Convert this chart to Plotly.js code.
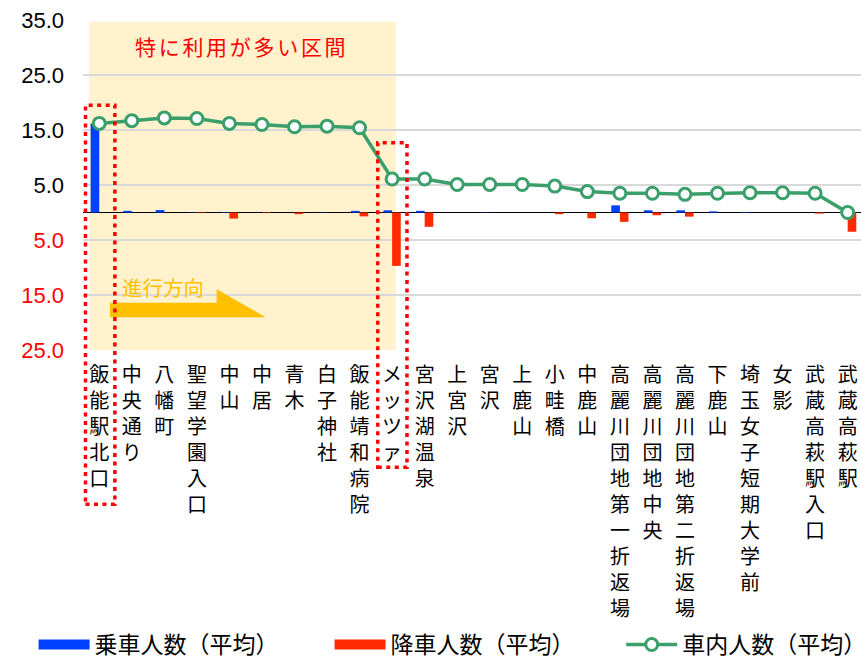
<!DOCTYPE html>
<html>
<head>
<meta charset="utf-8">
<script src="https://cdn.plot.ly/plotly-3.0.1.min.js"></script>
<style>html,body{margin:0;padding:0;background:#fff;}</style>
</head>
<body>
<div id="chart" style="width:861px;height:657px;"></div>
<script>
// ---- data ----
const stations = ["飯能駅北口","中央通り","八幡町","聖望学園入口","中山","中居","青木","白子神社","飯能靖和病院","メッツァ","宮沢湖温泉","上宮沢","宮沢","上鹿山","小畦橋","中鹿山","高麗川団地第一折返場","高麗川団地中央","高麗川団地第二折返場","下鹿山","埼玉女子短期大学前","女影","武蔵高萩駅入口","武蔵高萩駅"];
const boarding  = [16.2,0.3,0.45,0.05,0.1,0,0,0.05,0.3,0.4,0.3,0,0.05,0,0,0,1.3,0.4,0.4,0.2,0.1,0,0,0];
const alighting = [0,0,0,0.1,1.1,0.1,0.3,0,0.7,9.7,2.6,0,0,0,0.3,1.05,1.7,0.5,0.75,0,0,0,0.2,3.5];
const onboard   = [16.2,16.7,17.2,17.1,16.2,16.0,15.6,15.7,15.4,6.1,6.1,5.1,5.1,5.1,4.8,3.8,3.5,3.5,3.3,3.5,3.6,3.6,3.5,0];
const seriesNames = ["乗車人数（平均）","降車人数（平均）","車内人数（平均）"];
const yTickVals  = [35,25,15,5,-5,-15,-25];
const yTickLabels = ["35.0","25.0","15.0","5.0","5.0","15.0","25.0"];
const highlightLabel = "特に利用が多い区間";
const directionLabel = "進行方向";

// ---- styles ----
const BLUE = "#0040FF", RED = "#FF2A00", GREEN = "#3A9F6B", GOLD = "#FFC000";
const JP = "'Noto Sans CJK JP', 'Noto Sans', sans-serif";

const yTickText = yTickVals.map((v, i) =>
  v < 0 ? '<span style="color:#FF0000">' + yTickLabels[i] + '</span>' : yTickLabels[i]);
const xTickText = stations.map(s => Array.from(s).join("<br>"));

const traces = [
  // legend swatches
  {type:"scatter", mode:"lines", x:[stations[0]], y:[null], name:seriesNames[0],
   line:{color:BLUE, width:10}, hoverinfo:"skip", legend:"legend"},
  {type:"scatter", mode:"lines", x:[stations[0]], y:[null], name:seriesNames[1],
   line:{color:RED, width:10}, hoverinfo:"skip", legend:"legend"},
  // bars
  {type:"bar", x:stations, y:boarding, name:seriesNames[0], marker:{color:BLUE}, showlegend:false},
  {type:"bar", x:stations, y:alighting.map(v => -v), name:seriesNames[1], marker:{color:RED}, showlegend:false},
  // line
  {type:"scatter", mode:"lines+markers", x:stations, y:onboard, name:seriesNames[2],
   line:{color:GREEN, width:3.5}, legend:"legend2",
   marker:{symbol:"circle", size:12, color:"#FFFFFF", line:{color:GREEN, width:3}}}
];

const legendCommon = {orientation:"h", xref:"container", yref:"container", xanchor:"left",
  y:0.019, yanchor:"middle", font:{family:JP, size:23, color:"#000"}, itemwidth:51,
  traceorder:"normal", bgcolor:"rgba(0,0,0,0)"};

const layout = {
  width:861, height:657,
  margin:{l:83, r:0, t:20, b:307, autoexpand:false},
  paper_bgcolor:"#FFFFFF", plot_bgcolor:"#FFFFFF",
  barmode:"group", bargap:0.47, bargroupgap:0,
  showlegend:true,
  legend:Object.assign({}, legendCommon, {x:0.039, entrywidth:230}),
  legend2:Object.assign({}, legendCommon, {x:0.7215}),
  xaxis:{type:"category", range:[-0.5, 23.41], tickvals:stations, ticktext:xTickText,
         tickangle:0, showgrid:false, zeroline:false, showline:false, ticks:"",
         tickfont:{family:JP, size:20, color:"#000"}, ticklabelstandoff:11, fixedrange:true},
  yaxis:{range:[-25,35], tickvals:yTickVals, ticktext:yTickText, showgrid:true,
         gridcolor:"#D9D9D9", gridwidth:1.5, zeroline:true, zerolinecolor:"#000",
         zerolinewidth:1.8, showline:false, ticks:"", ticklabelstandoff:18,
         tickfont:{family:"Arial, 'Liberation Sans', sans-serif", size:22, color:"#000"}, fixedrange:true},
  shapes:[
    {type:"rect", xref:"x", yref:"y", x0:-0.307, x1:9.112, y0:-25.3, y1:34.7,
     fillcolor:"#FFF2CC", line:{width:0}, layer:"below"},
    {type:"path", xref:"x", yref:"y", layer:"above",
     path:"M0.329,-16.4 L3.608,-16.4 L3.608,-13.96 L5.114,-19.05 L0.329,-19.05 Z",
     fillcolor:GOLD, line:{width:0}},
    {type:"rect", xref:"x", yref:"paper", x0:-0.424, x1:0.479, y0:-0.4673, y1:0.7415,
     line:{color:"#FF0000", width:3.5, dash:"4px,4.5px"}, fillcolor:"rgba(0,0,0,0)", layer:"above"},
    {type:"rect", xref:"x", yref:"paper", x0:8.559, x1:9.456, y0:-0.3552, y1:0.6282,
     line:{color:"#FF0000", width:3.5, dash:"4px,4.5px"}, fillcolor:"rgba(0,0,0,0)", layer:"above"}
  ],
  annotations:[
    {xref:"x", yref:"y", x:4.376, y:30.3, showarrow:false,
     text:'<span style="letter-spacing:2.7px">' + highlightLabel + '</span>',
     font:{family:JP, size:21, color:"#FF0000"}},
    {xref:"x", yref:"y", x:1.958, y:-13.6, showarrow:false, text:directionLabel,
     font:{family:JP, size:20.5, color:GOLD}}
  ]
};

Plotly.newPlot("chart", traces, layout, {displayModeBar:false, staticPlot:true});
</script>
</body>
</html>
